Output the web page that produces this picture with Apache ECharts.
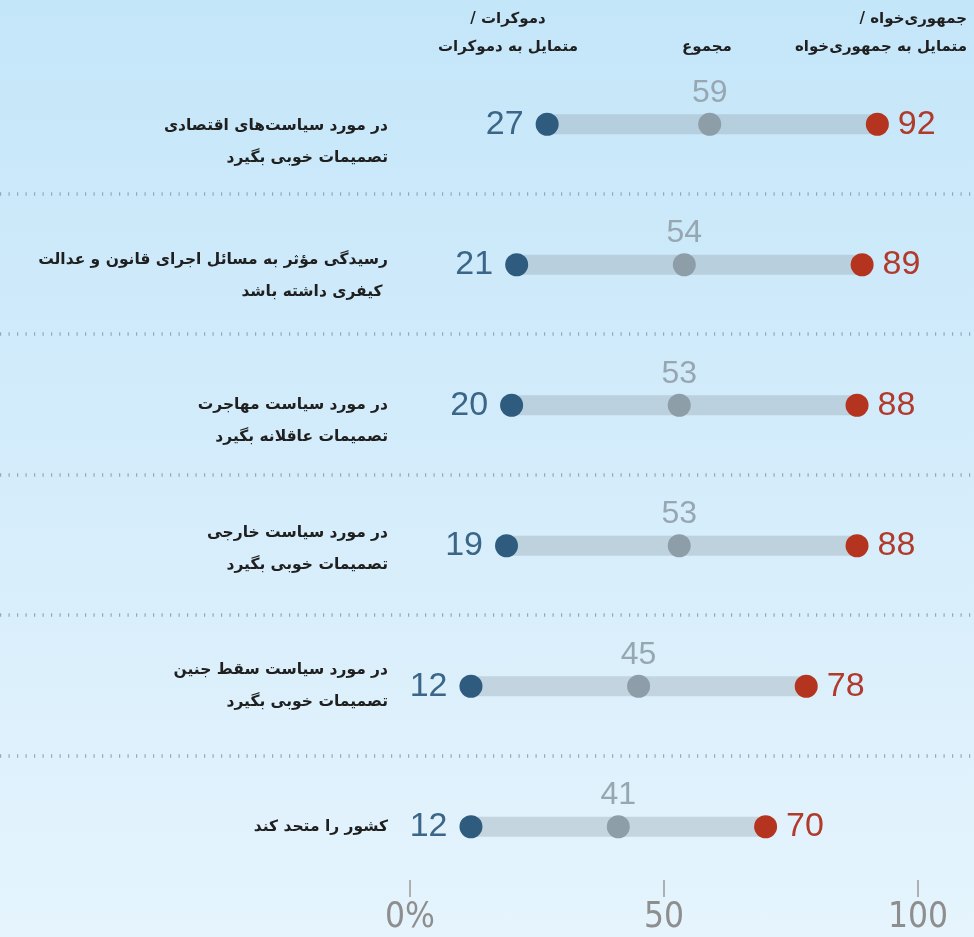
<!DOCTYPE html>
<html>
<head>
<meta charset="utf-8">
<script src="https://cdn.jsdelivr.net/npm/echarts@6/dist/echarts.min.js"></script>
<style>
  html, body { margin: 0; padding: 0; }
  #chart { width: 974px; height: 937px; background: linear-gradient(to bottom, #c4e6f9 0%, #d6edfb 55%, #e5f4fd 100%); }
</style>
</head>
<body>
<div id="chart"></div>
<script>
// ---- data ----
const categories = [
  'در مورد سیاست‌های اقتصادی\nتصمیمات خوبی بگیرد',
  'رسیدگی مؤثر به مسائل اجرای قانون و عدالت\n کیفری داشته باشد',
  'در مورد سیاست مهاجرت\nتصمیمات عاقلانه بگیرد',
  'در مورد سیاست خارجی\nتصمیمات خوبی بگیرد',
  'در مورد سیاست سقط جنین\nتصمیمات خوبی بگیرد',
  'کشور را متحد کند'
];
const demValues = [27, 21, 20, 19, 12, 12];
const totalValues = [59, 54, 53, 53, 45, 41];
const repValues = [92, 89, 88, 88, 78, 70];
const tickValues = [0, 50, 100];
const tickLabels = ['0%', '50', '100'];
const headerDem = 'دموکرات /\u200F\nمتمایل به دموکرات';
const headerTotal = 'مجموع';
const headerRep = 'جمهوری‌خواه /\u200F\nمتمایل به جمهوری‌خواه';

// ---- styling ----
const C_DEM = '#2f5c7e', C_REP = '#b5341f', C_TOT = '#8e9ea9';
const C_DEM_T = '#3b6688', C_REP_T = '#b03a2b', C_TOT_T = '#97a7b2';
const numFont = 'Liberation Sans';
const axisFont = "'Liberation Sans Narrow', 'DejaVu Sans Condensed', 'Liberation Sans'";
const faFont = 'DejaVu Sans';
const leadSpace = [36, 22, 32, 6, 0, 0];

const rich = {};
leadSpace.forEach((h, i) => { rich['sp' + i] = { lineHeight: h, fontSize: 1 }; });
rich.t = { fontFamily: faFont, fontWeight: 'bold', fontSize: 15.5, lineHeight: 32, color: '#1f1f1f', align: 'right' };

const headStyle = { fontFamily: faFont, fontWeight: 'bold', fontSize: 15, lineHeight: 28, color: '#1f1f1f' };

const chart = echarts.init(document.getElementById('chart'), null, { renderer: 'canvas' });
const span = repValues.map((v, i) => v - demValues[i]);

chart.setOption({
  backgroundColor: 'transparent',
  animation: false,
  title: [
    { text: headerDem, left: 508, top: 5, textAlign: 'center', padding: 0,
      textStyle: Object.assign({ align: 'center' }, headStyle) },
    { text: headerTotal, left: 707, top: 33, textAlign: 'center', padding: 0,
      textStyle: Object.assign({}, headStyle) },
    { text: headerRep, left: 967, top: 5, textAlign: 'right', padding: 0,
      textStyle: Object.assign({ align: 'right' }, headStyle) }
  ],
  grid: [
    { left: 410, right: 56, top: 54, height: 843 },
    { left: 0, right: 0, top: 53, height: 843 }
  ],
  xAxis: [
    { type: 'value', gridIndex: 0, min: 0, max: 100, interval: 50,
      axisLine: { show: false },
      axisTick: { show: true, inside: true, length: 17, lineStyle: { color: '#9a9a9a', width: 1.5 } },
      splitLine: { show: false },
      axisLabel: { margin: 3, color: '#8e8e8e', fontFamily: axisFont, fontSize: 35, fontWeight: 'lighter',
        formatter: v => tickLabels[tickValues.indexOf(v)] } },
    { type: 'value', gridIndex: 1, show: false, min: 0, max: 1 }
  ],
  yAxis: [
    { type: 'category', gridIndex: 0, data: categories, inverse: true,
      axisLine: { show: false }, axisTick: { show: false }, splitLine: { show: false },
      axisLabel: { margin: 22, align: 'right',
        formatter: (val, idx) => {
          const lines = val.split('\n').map(s => '{t|\u200F' + s + '}');
          if (lines.length > 1 && leadSpace[idx] > 0) lines.unshift('{sp' + idx + '| }');
          return lines.join('\n');
        },
        rich } },
    { type: 'category', gridIndex: 1, data: categories, inverse: true,
      axisLine: { show: false }, axisTick: { show: false }, axisLabel: { show: false },
      splitLine: { show: true, showMinLine: false, showMaxLine: false,
        lineStyle: { color: '#93a9b6', width: 3.5, type: [1.2, 7.3] } } }
  ],
  series: [
    { type: 'bar', stack: 'range', xAxisIndex: 0, yAxisIndex: 0, barWidth: 20, silent: true,
      itemStyle: { color: 'transparent' }, data: demValues, z: 1 },
    { type: 'bar', stack: 'range', xAxisIndex: 0, yAxisIndex: 0, barWidth: 20, silent: true,
      itemStyle: { color: 'rgba(150,165,175,0.38)' }, data: span, z: 1 },
    { type: 'scatter', xAxisIndex: 0, yAxisIndex: 0, symbolSize: 23, z: 3,
      itemStyle: { color: C_TOT, opacity: 1 },
      label: { show: true, position: 'top', distance: 4, color: C_TOT_T, fontFamily: numFont, fontSize: 32,
        formatter: p => p.value[0] },
      data: totalValues.map((v, i) => [v, i]) },
    { type: 'scatter', xAxisIndex: 0, yAxisIndex: 0, symbolSize: 23, z: 3,
      itemStyle: { color: C_DEM, opacity: 1 },
      label: { show: true, position: 'left', distance: 12, color: C_DEM_T, fontFamily: numFont, fontSize: 34,
        formatter: p => p.value[0] },
      data: demValues.map((v, i) => [v, i]) },
    { type: 'scatter', xAxisIndex: 0, yAxisIndex: 0, symbolSize: 23, z: 3,
      itemStyle: { color: C_REP, opacity: 1 },
      label: { show: true, position: 'right', distance: 9, color: C_REP_T, fontFamily: numFont, fontSize: 34,
        formatter: p => p.value[0] },
      data: repValues.map((v, i) => [v, i]) }
  ]
});
</script>
</body>
</html>
